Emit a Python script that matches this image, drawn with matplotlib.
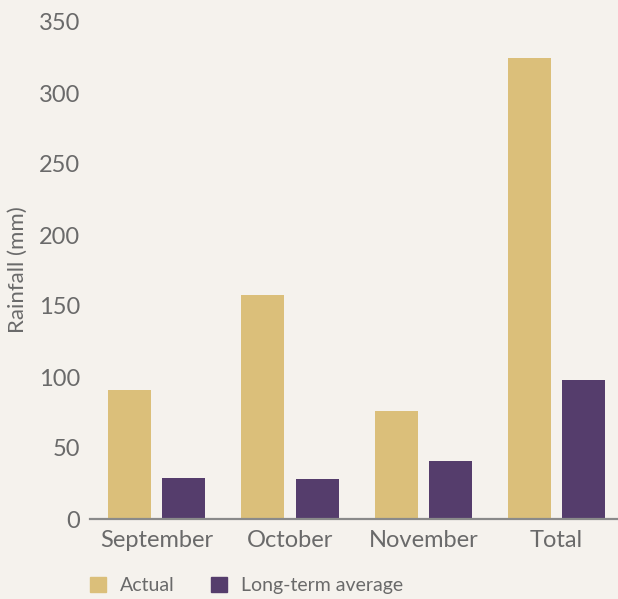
import matplotlib
matplotlib.use("Agg")
import matplotlib.pyplot as plt
import numpy as np
from matplotlib.patches import Patch

categories = ["September", "October", "November", "Total"]
actual = [91, 158, 76, 325]
long_term = [29, 28, 41, 98]
yticks = [0, 50, 100, 150, 200, 250, 300, 350]

BG = "#f5f2ed"
GOLD = "#dbbf7a"
PURPLE = "#553d6c"
TXT = "#6a6a6a"

plt.rcParams["font.family"] = ["Lato", "DejaVu Sans"]

fig = plt.figure(figsize=(6.18, 5.99), dpi=100, facecolor=BG)
ax = fig.add_axes([90/618, 80/599, 1 - 90/618, (519 - 22)/599])
ax.set_facecolor(BG)

x = np.arange(len(categories))
w = 0.323
off = 0.203
ax.bar(x - off, actual, width=w, color=GOLD, label="Actual")
ax.bar(x + off, long_term, width=w, color=PURPLE, label="Long-term average")

ax.set_xlim(-0.5, 3.46)
ax.set_ylim(0, 350)
ax.set_yticks(yticks)
ax.set_xticks(x)
ax.set_xticklabels(categories)
ax.tick_params(axis="both", length=0, labelsize=17, labelcolor=TXT)
ax.tick_params(axis="x", pad=8)
ax.tick_params(axis="y", pad=7)
for s in ["top", "right", "left"]:
    ax.spines[s].set_visible(False)
ax.spines["bottom"].set_color("#8a8a8a")
ax.spines["bottom"].set_linewidth(1.6)

fig.text(18/618, 1 - 270/599, "Rainfall (mm)", rotation=90, ha="center", va="center",
         fontsize=16, color=TXT)

handles = [Patch(color=GOLD, label="Actual"), Patch(color=PURPLE, label="Long-term average")]
fig.legend(handles=handles, loc="lower left", bbox_to_anchor=(74/618, -0.018), ncol=2,
           frameon=False, fontsize=14, labelcolor=TXT, handlelength=0.82, handleheight=0.82,
           handletextpad=0.72, columnspacing=1.9, borderpad=0.3)

fig.savefig("out.png", dpi=100, facecolor=BG)
